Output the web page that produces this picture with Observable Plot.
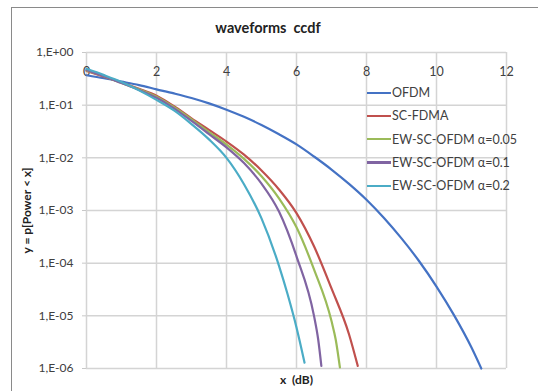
<!DOCTYPE html>
<html><head><meta charset="utf-8">
<script src="https://cdn.jsdelivr.net/npm/d3@7"></script>
<script src="https://cdn.jsdelivr.net/npm/@observablehq/plot@0.6"></script>
<style>
body{margin:0;background:#fff;font-family:Lato,"Liberation Sans",sans-serif;color:#404040;}
#wrap{position:relative;width:538px;height:391px;overflow:hidden;}
#border{position:absolute;left:11px;top:7px;width:600px;height:500px;border:1px solid #8a8a8a;}
#chart svg{position:absolute;left:0;top:0;}
#title{position:absolute;left:0;width:536px;top:19px;text-align:center;font-weight:bold;font-size:14.5px;color:#222;}
#legend{position:absolute;left:367px;top:81px;font-size:12.5px;color:#404040;}
.row{display:flex;align-items:center;height:23.3px;white-space:nowrap;}
.sw{width:24px;height:2.2px;margin-right:1px;}
</style></head><body>
<div id="wrap"><div id="border"></div><div id="chart"></div><div id="title">waveforms&nbsp; ccdf</div><div id="legend"></div></div>
<script>
const seriesNames = ["OFDM", "SC-FDMA", "EW-SC-OFDM α=0.05", "EW-SC-OFDM α=0.1", "EW-SC-OFDM α=0.2"];
const seriesColors = ["#4472C4", "#C0504D", "#9BBB59", "#8064A2", "#4BACC6"];

const xTicks = [0, 2, 4, 6, 8, 10, 12];
const yTicks = [1, 0.1, 0.01, 0.001, 0.0001, 0.00001, 0.000001];
const yTickLabels = ["1,E+00", "1,E-01", "1,E-02", "1,E-03", "1,E-04", "1,E-05", "1,E-06"];

const ofdmX = [0, 0.5, 1, 1.5, 2, 2.5, 3, 3.5, 4, 4.5, 5, 5.5, 6, 6.5, 7, 7.5, 8, 8.5, 9, 9.5, 10, 10.5, 11, 11.28];
const ofdmP = [0.37, 0.325, 0.28, 0.24, 0.2, 0.167, 0.137, 0.108, 0.082, 0.06, 0.042, 0.028, 0.018, 0.0106, 0.006, 0.0032, 0.0016, 0.00072, 0.000295, 0.00011, 0.000036, 0.0000103, 0.0000025, 0.000001];

const scfdmaX = [0, 0.5, 1, 1.5, 2, 2.5, 3, 3.5, 4, 4.5, 5, 5.5, 6, 6.5, 7, 7.5, 7.75];
const scfdmaP = [0.447, 0.347, 0.269, 0.204, 0.151, 0.0955, 0.0562, 0.0339, 0.0204, 0.0115, 0.00575, 0.00251, 0.000891, 0.000209, 0.0000331, 0.00000447, 0.00000112];

const ew005X = [0, 0.5, 1, 1.5, 2, 2.5, 3, 3.5, 4, 4.5, 5, 5.5, 6, 6.5, 7, 7.12, 7.24];
const ew005P = [0.457, 0.355, 0.263, 0.2, 0.145, 0.0912, 0.0537, 0.0309, 0.0178, 0.00955, 0.00447, 0.0017, 0.000479, 0.0000759, 0.00000794, 0.00000355, 0.00000105];

const ew01X = [0, 0.5, 1, 1.5, 2, 2.5, 3, 3.5, 4, 4.5, 5, 5.5, 6, 6.5, 6.62, 6.71];
const ew01P = [0.468, 0.355, 0.263, 0.195, 0.138, 0.0871, 0.0501, 0.0282, 0.0158, 0.00794, 0.00324, 0.000955, 0.000135, 0.00001, 0.00000355, 0.00000112];

const ew02X = [0, 0.5, 1, 1.5, 2, 2.5, 3, 3.5, 4, 4.5, 5, 5.5, 5.75, 6, 6.23];
const ew02P = [0.49, 0.372, 0.275, 0.191, 0.126, 0.0794, 0.0437, 0.0224, 0.01, 0.00316, 0.000708, 0.0000891, 0.0000251, 0.00000603, 0.00000129];

const seriesX = [ofdmX, scfdmaX, ew005X, ew01X, ew02X];
const seriesP = [ofdmP, scfdmaP, ew005P, ew01P, ew02P];

const rows = [];
seriesNames.forEach((name, s) => {
  seriesX[s].forEach((x, i) => rows.push({series: name, x, p: seriesP[s][i]}));
});

const chart = Plot.plot({
  width: 538,
  height: 391,
  marginLeft: 86,
  marginRight: 32,
  marginTop: 52,
  marginBottom: 23,
  style: {background: "transparent", fontFamily: "Lato, 'Liberation Sans', sans-serif", fontSize: "12px", color: "#404040"},
  x: {domain: [0, 12]},
  y: {type: "log", domain: [0.000001, 1]},
  color: {domain: seriesNames, range: seriesColors},
  marks: [
    Plot.gridX(xTicks, {stroke: "#d4d4d4", strokeOpacity: 1, strokeWidth: 1.5}),
    Plot.gridY(yTicks, {stroke: "#d4d4d4", strokeOpacity: 1, strokeWidth: 1.5}),
    Plot.axisY({ticks: yTicks, tickFormat: d => yTickLabels[yTicks.indexOf(d)], tickSize: 4, tickPadding: 9, stroke: "#c8c8c8", fill: "#404040", label: null, fontSize: 12}),
    Plot.axisY({ticks: [], label: "y = p[Power < x]", labelAnchor: "center", labelOffset: 64, labelArrow: "none", fontWeight: "bold", fill: "#222", fontSize: 12}),
    Plot.axisX({anchor: "top", ticks: xTicks, tickSize: 0, tickPadding: -23, label: null, fill: "#404040", fontSize: 12.5}),
    Plot.axisX({anchor: "bottom", ticks: [], label: "x  (dB)", labelAnchor: "center", labelOffset: 15, labelArrow: "none", fontWeight: "bold", fill: "#222", fontSize: 12}),
    Plot.line(rows, {x: "x", y: "p", z: "series", stroke: "series", strokeWidth: 2.2, curve: "monotone-x"})
  ]
});
document.getElementById("chart").appendChild(chart);

const legend = document.getElementById("legend");
seriesNames.forEach((name, i) => {
  const row = document.createElement("div");
  row.className = "row";
  const sw = document.createElement("div");
  sw.className = "sw";
  sw.style.background = seriesColors[i];
  const t = document.createElement("span");
  t.textContent = name;
  row.appendChild(sw);
  row.appendChild(t);
  legend.appendChild(row);
});
</script></body></html>
